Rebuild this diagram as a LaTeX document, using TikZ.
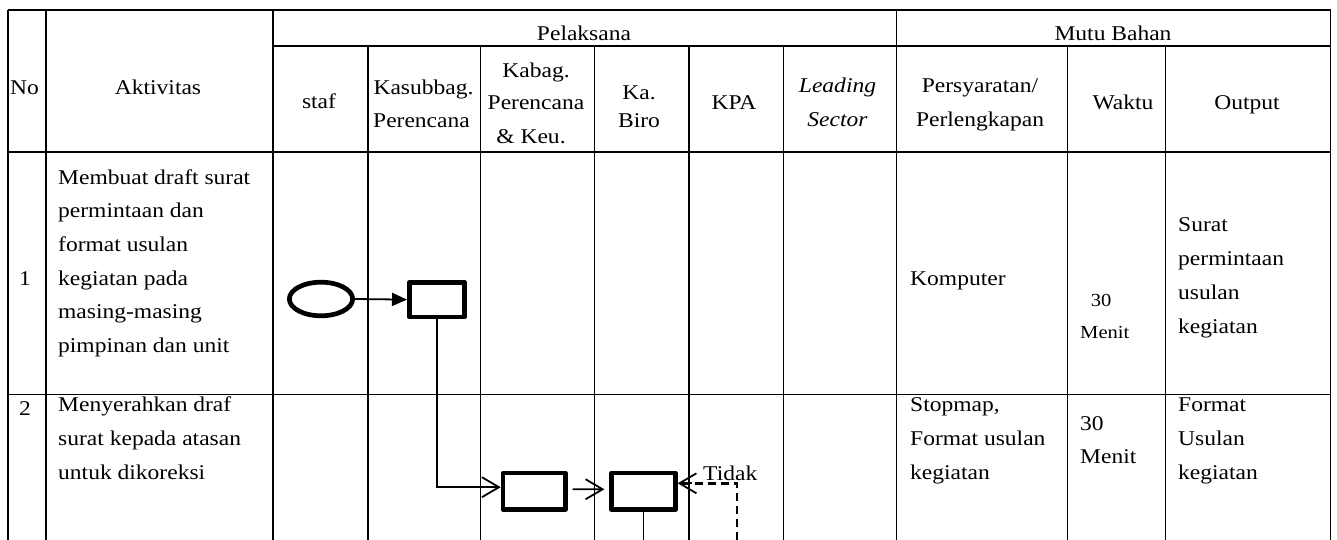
\documentclass[tikz,border=0pt]{standalone}
\usepackage{fontspec}
\setmainfont{Liberation Serif}[FakeStretch=1.12]
\usetikzlibrary{arrows.meta,shapes.geometric}
\begin{document}
\begin{tikzpicture}[x=1pt,y=-1pt,
  grid/.style={line width=1.1pt},
  txt/.style={anchor=base west, inner sep=0pt, font=\fontsize{21}{25}\selectfont},
  ctxt/.style={txt, anchor=base},
  smalltxt/.style={txt, font=\fontsize{18.4}{22}\selectfont},
  box/.style={draw, line width=4.7pt, line join=round, fill=white, inner sep=0pt},
  oval/.style={ellipse, draw, line width=4.7pt, inner sep=0pt, minimum width=63.3pt, minimum height=33.6pt},
  flow/.style={line width=1.8pt},
  tri/.style={-{Triangle[length=15pt,width=13pt]}},
  barb/.style={-{Straight Barb[length=17pt,width=20pt]}},
  dashflow/.style={line width=2.4pt, dash pattern=on 8pt off 5pt}
]
\useasboundingbox (0,0) rectangle (1337,540);
\coordinate (bottom) at (0,540);

% grid
\draw[grid] (8,10) -- (1330.7,10);
\draw[grid] (273,46) -- (1330.7,46);
\draw[grid] (8,152) -- (1330.7,152);
\draw[grid] (8,394.5) -- (1330.7,394.5);
\foreach \x in {8,46,273,896.7,1330.7} \draw[grid] (\x,10) -- (\x,540);
\foreach \x in {368,480.7,594.3,689,783.3,1067.3,1165.3} \draw[grid] (\x,46) -- (\x,540);

% header
\node[txt] (hNo) at (10,95) {No};
\node[ctxt] (hAkt) at (158,95) {Aktivitas};
\node[ctxt] (hPel) at (584,41) {Pelaksana};
\node[ctxt] (hMutu) at (1113,41) {Mutu Bahan};
\node[ctxt] (hStaf) at (319,109) {staf};
\node[ctxt] (hKas1) at (423.5,95) {Kasubbag.};
\node[ctxt] (hKas2) at (421.5,128) {Perencana};
\node[ctxt] (hKab1) at (536,78) {Kabag.};
\node[ctxt] (hKab2) at (536,110) {Perencana};
\node[ctxt] (hKab3) at (531,144) {\& Keu.};
\node[ctxt] (hKa1) at (639,100) {Ka.};
\node[ctxt] (hKa2) at (639,128) {Biro};
\node[ctxt] (hKPA) at (734,110) {KPA};
\node[ctxt] (hLead1) at (837.5,93) {\itshape Leading};
\node[ctxt] (hLead2) at (837.5,127) {\itshape Sector};
\node[ctxt] (hPer1) at (980,93) {Persyaratan/};
\node[ctxt] (hPer2) at (980,127) {Perlengkapan};
\node[ctxt] (hWaktu) at (1123,110) {Waktu};
\node[ctxt] (hOut) at (1247,110) {Output};

% row 1
\node[ctxt] (n1) at (25,285) {1};
\node[txt] (a11) at (58,184) {Membuat draft surat};
\node[txt] (a12) at (58,217.7) {permintaan dan};
\node[txt] (a13) at (58,251.3) {format usulan};
\node[txt] (a14) at (58,285) {kegiatan pada};
\node[txt] (a15) at (58,318.7) {masing-masing};
\node[txt] (a16) at (58,352.3) {pimpinan dan unit};
\node[txt] (p1) at (910,285) {Komputer};
\node[smalltxt] (w11) at (1090.7,306) {30};
\node[smalltxt] (w12) at (1080,338.3) {Menit};
\node[txt] (o11) at (1178,231.6) {Surat};
\node[txt] (o12) at (1178,265.5) {permintaan};
\node[txt] (o13) at (1178,299.4) {usulan};
\node[txt] (o14) at (1178,333.3) {kegiatan};

% row 2
\node[ctxt] (n2) at (25,415) {2};
\node[txt] (a21) at (58,411.7) {Menyerahkan draf};
\node[txt] (a22) at (58,445.6) {surat kepada atasan};
\node[txt] (a23) at (58,479.5) {untuk dikoreksi};
\node[txt] (p21) at (910,411.7) {Stopmap,};
\node[txt] (p22) at (910,445.6) {Format usulan};
\node[txt] (p23) at (910,479.5) {kegiatan};
\node[txt] (w21) at (1080,430) {30};
\node[txt] (w22) at (1080,463.3) {Menit};
\node[txt] (o21) at (1178,411.7) {Format};
\node[txt] (o22) at (1178,445.6) {Usulan};
\node[txt] (o23) at (1178,479.5) {kegiatan};

% flow shapes
\node[oval] (start) at (321,299) {};
\node[box, minimum width=55.3pt, minimum height=34.6pt] (r1) at (437,299.6) {};
\node[box, minimum width=62.3pt, minimum height=36.3pt] (r2) at (534.2,491.2) {};
\node[box, minimum width=63.6pt, minimum height=36.6pt] (r3) at (643.5,491.3) {};
\node[txt] (tidak) at (703,480) {Tidak};

% connectors
\draw[flow,tri] (start.east) -- (r1.west);
\draw[flow,barb] (r1.south) |- ([yshift=4pt]r2.west);
\draw[flow,barb,shorten <=5pt,shorten >=5pt] ([yshift=2pt]r2.east) -- ([yshift=2pt]r3.west);
\draw[flow] (r3.south) -- (r3.south |- bottom);
\coordinate (dend) at (737,540);
\draw[dashflow] (dend) |- ([yshift=8pt]r3.east);
\draw[flow,barb] ([yshift=8pt,xshift=14pt]r3.east) -- ([yshift=8pt]r3.east);
\end{tikzpicture}
\end{document}
